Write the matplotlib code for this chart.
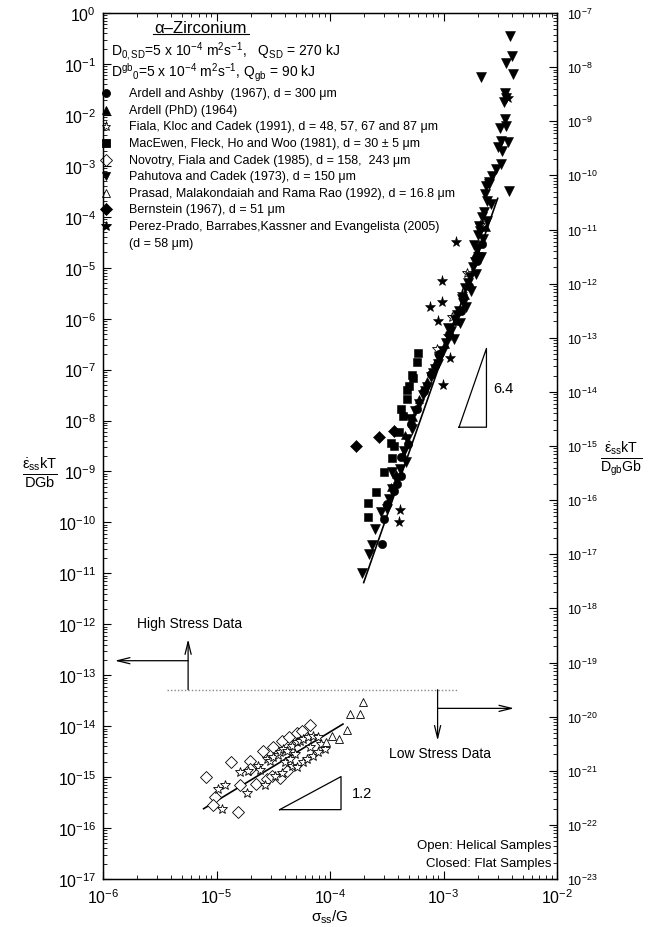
import matplotlib
matplotlib.use('Agg')
import matplotlib.pyplot as plt
from matplotlib.lines import Line2D
from matplotlib.ticker import LogLocator, NullFormatter

plt.rcParams['font.family'] = ['Liberation Sans', 'DejaVu Sans']
plt.rcParams['mathtext.fontset'] = 'custom'
plt.rcParams['mathtext.rm'] = 'Liberation Sans'
plt.rcParams['mathtext.it'] = 'Liberation Sans:italic'
plt.rcParams['mathtext.bf'] = 'Liberation Sans:bold'
plt.rcParams['mathtext.default'] = 'regular'
plt.rcParams['axes.unicode_minus'] = False

# ---- high stress data (closed symbols) ----
pahutova_x = [3.86e-3, 4.02e-3, 3.56e-3, 2.15e-3, 4.10e-3, 3.49e-3, 3.56e-3, 3.42e-3, 3.49e-3,
              3.15e-3, 3.56e-3, 3.2e-3, 3.7e-3, 3.0e-3, 3.3e-3, 3.2e-3, 2.9e-3, 2.7e-3, 2.5e-3,
              2.35e-3, 3.78e-3,
              2.52e-3, 2.33e-3, 2.63e-3, 2.28e-3, 2.43e-3, 2.10e-3, 2.24e-3, 1.98e-3, 2.15e-3,
              1.82e-3, 1.94e-3, 1.65e-3, 1.75e-3, 1.46e-3, 1.58e-3, 1.32e-3, 1.40e-3, 1.17e-3,
              1.24e-3, 9.95e-4, 9.2e-4, 8.5e-4, 7.8e-4, 7.2e-4, 6.6e-4, 6.1e-4, 5.65e-4, 5.1e-4,
              5.3e-4, 4.8e-4, 4.5e-4, 4.7e-4, 4.1e-4, 3.8e-4, 3.5e-4, 3.3e-4, 3.2e-4, 2.84e-4,
              2.5e-4, 2.36e-4, 2.22e-4, 1.93e-4, 3.54e-4,
              2.4e-3, 2.2e-3, 2.05e-3, 2.0e-3, 1.85e-3, 1.9e-3, 1.7e-3, 1.55e-3, 1.5e-3, 1.38e-3,
              1.25e-3, 1.1e-3, 1.05e-3, 9.0e-4, 8.0e-4, 6.9e-4]
pahutova_y = [0.35, 0.143, 0.104, 5.5e-2, 6.4e-2, 2.7e-2, 2.1e-2, 1.8e-2, 8.3e-3,
              5.5e-3, 6.0e-3, 3.1e-3, 2.9e-3, 2.3e-3, 1.95e-3, 1.09e-3, 8.7e-4, 6.3e-4, 4.8e-4,
              4.0e-4, 3.2e-4,
              4.4e-4, 2.8e-4, 1.78e-4, 1.24e-4, 8.3e-5, 5.3e-5, 3.7e-5, 2.3e-5, 1.6e-5,
              1.03e-5, 7.5e-6, 5.0e-6, 3.5e-6, 2.4e-6, 1.7e-6, 1.18e-6, 8.2e-7, 5.7e-7,
              4.0e-7, 2.3e-7, 1.6e-7, 1.03e-7, 7.1e-8, 4.6e-8, 3.2e-8, 2.1e-8, 1.54e-8, 1.07e-8,
              6.8e-9, 4.3e-9, 2.5e-9, 1.53e-9, 1.12e-9, 7.1e-10, 4.5e-10, 2.9e-10, 1.83e-10, 1.6e-10,
              7.4e-11, 3.6e-11, 2.4e-11, 1.02e-11, 9.6e-10,
              2.0e-4, 1.0e-4, 6.5e-5, 4.4e-5, 2.8e-5, 1.3e-5, 6.5e-6, 4.0e-6, 2.0e-6, 1.4e-6,
              9.5e-7, 6.5e-7, 3.4e-7, 1.3e-7, 8.5e-8, 3.8e-8]

ardell_ashby_x = [2.19e-3, 1.98e-3, 1.68e-3, 1.43e-3, 1.12e-3, 9.18e-4, 7.8e-4, 6.78e-4, 5.87e-4,
                  5.2e-4, 4.9e-4, 4.25e-4, 4.25e-4, 3.92e-4, 3.69e-4, 3.2e-4, 3.01e-4, 2.90e-4]
ardell_ashby_y = [2.92e-5, 1.35e-5, 4.37e-6, 1.41e-6, 5.0e-7, 2.02e-7, 8.2e-8, 3.8e-8, 1.68e-8,
                  8.5e-9, 3.46e-9, 1.92e-9, 8.1e-10, 5.67e-10, 4.13e-10, 2.30e-10, 1.17e-10, 3.77e-11]

ardell_phd_x = [2.38e-3, 1.90e-3, 1.55e-3, 1.27e-3, 1.04e-3, 8.46e-4, 7.2e-4, 6.12e-4, 5.42e-4,
                4.61e-4, 4.43e-4, 3.84e-4, 3.47e-4]
ardell_phd_y = [6.3e-5, 1.86e-5, 2.91e-6, 9.0e-7, 3.18e-7, 1.35e-7, 5.97e-8, 2.64e-8, 1.17e-8,
                5.2e-9, 2.2e-9, 8.9e-10, 4.96e-10]

macewen_x = [6.00e-4, 5.87e-4, 5.31e-4, 5.42e-4, 5.0e-4, 4.80e-4, 4.80e-4, 4.25e-4, 4.43e-4,
             4.08e-4, 3.47e-4, 3.69e-4, 3.54e-4, 3.01e-4, 2.56e-4, 2.18e-4, 2.18e-4]
macewen_y = [2.12e-7, 1.41e-7, 7.8e-8, 6.8e-8, 4.76e-8, 3.97e-8, 2.64e-8, 1.68e-8, 1.23e-8,
             5.96e-9, 3.62e-9, 3.16e-9, 1.84e-9, 9.7e-10, 3.95e-10, 2.40e-10, 1.28e-10]

bernstein_x = [1.71e-4, 2.72e-4, 3.69e-4]
bernstein_y = [3.16e-9, 4.74e-9, 6.2e-9]

perez_prado_x = [3.71e-3, 1.29e-3, 9.75e-4, 7.66e-4, 9.75e-4, 8.99e-4, 1.15e-3, 9.95e-4,
                 4.17e-4, 4.08e-4, 2.0e-3, 1.45e-3, 1.1e-3]
perez_prado_y = [2.1e-2, 3.2e-5, 5.5e-6, 1.69e-6, 2.12e-6, 9.0e-7, 1.69e-7, 5.0e-8,
                 1.75e-10, 1.02e-10, 1.9e-5, 3.0e-6, 4.5e-7]

# ---- low stress data (open symbols) ----
fiala_x = [2.1e-3, 1.6e-3, 1.2e-3, 8.7e-4,
           1.03e-5, 1.18e-5, 1.11e-5, 1.60e-5, 1.88e-5, 1.84e-5, 2.31e-5, 2.40e-5, 2.66e-5,
           2.77e-5, 2.94e-5, 3.12e-5, 3.45e-5, 3.60e-5, 3.82e-5, 4.15e-5, 4.59e-5, 5.07e-5,
           5.40e-5, 5.73e-5, 6.34e-5, 7.02e-5, 7.77e-5, 4.59e-5, 5.07e-5, 5.73e-5, 6.21e-5,
           7.02e-5, 7.77e-5, 3.75e-5, 3.25e-5, 3.98e-5, 8.41e-5, 8.95e-5, 6.60e-5, 4.88e-5,
           4.41e-5]
fiala_y = [7.0e-5, 8.0e-6, 1.1e-6, 2.5e-7,
           5.8e-16, 7.0e-16, 2.36e-16, 1.26e-15, 1.32e-15, 4.9e-16, 1.65e-15, 1.38e-15, 7.0e-16,
           2.27e-15, 2.07e-15, 2.48e-15, 2.72e-15, 3.1e-15, 3.56e-15, 3.25e-15, 4.1e-15, 4.9e-15,
           5.1e-15, 5.6e-15, 6.1e-15, 6.4e-15, 6.1e-15, 1.65e-15, 1.58e-15, 1.98e-15, 2.27e-15,
           2.6e-15, 3.1e-15, 1.20e-15, 1.05e-15, 1.98e-15, 4.5e-15, 3.56e-15, 3.90e-15, 2.85e-15,
           2.27e-15]

novotry_x = [8.0e-6, 1.33e-5, 1.96e-5, 1.60e-5, 1.54e-5, 9.7e-6, 9.3e-6, 2.21e-5, 2.55e-5,
             3.12e-5, 3.75e-5, 4.32e-5, 5.07e-5, 5.61e-5, 6.60e-5, 2.77e-5, 3.06e-5, 3.60e-5,
             4.15e-5, 1.96e-5]
novotry_y = [1.00e-15, 1.98e-15, 2.07e-15, 7.0e-16, 2.06e-16, 4.07e-16, 2.83e-16, 7.3e-16, 3.25e-15,
             3.90e-15, 5.1e-15, 6.1e-15, 7.3e-15, 8.0e-15, 1.04e-14, 9.2e-16, 1.05e-15, 9.6e-16,
             1.32e-15, 1.44e-15]

prasad_x = [1.97e-4, 1.51e-4, 1.84e-4, 1.41e-4, 1.19e-4, 1.05e-4, 9.27e-5]
prasad_y = [2.98e-14, 1.73e-14, 1.73e-14, 8.4e-15, 5.6e-15, 6.4e-15, 4.9e-15]

# fitted lines and slope triangles
fit_high_x = [1.98e-4, 3.0e-3]
fit_high_y = [6.6e-12, 2.3e-4]
fit_low_x = [7.7e-6, 1.3e-4]
fit_low_y = [2.4e-16, 1.1e-14]
slope_high = 6.4
slope_low = 1.2
tri_high_x = [1.37e-3, 2.39e-3]
tri_high_y0 = 7.4e-9
tri_low_x = [3.6e-5, 1.25e-4]
tri_low_y0 = 2.3e-16

legend_labels = [
    'Ardell and Ashby  (1967), d = 300 μm',
    'Ardell (PhD) (1964)',
    'Fiala, Kloc and Cadek (1991), d = 48, 57, 67 and 87 μm',
    'MacEwen, Fleck, Ho and Woo (1981), d = 30 ± 5 μm',
    'Novotry, Fiala and Cadek (1985), d = 158,  243 μm',
    'Pahutova and Cadek (1973), d = 150 μm',
    'Prasad, Malakondaiah and Rama Rao (1992), d = 16.8 μm',
    'Bernstein (1967), d = 51 μm',
    'Perez-Prado, Barrabes,Kassner and Evangelista (2005)',
]

fig = plt.figure(figsize=(6.52, 9.28), dpi=100)
ax = fig.add_axes([0.158, 0.0517, 0.6963, 0.9332])
ax.set_xscale('log')
ax.set_yscale('log')
ax.set_xlim(1e-6, 1e-2)
ax.set_ylim(1e-17, 1e0)

# marker styles: (marker, size, filled)
styles = {
    'ardell_ashby': ('o', 6.0, True),
    'ardell_phd': ('^', 6.0, True),
    'fiala': ('*', 7.0, False),
    'macewen': ('s', 5.5, True),
    'novotry': ('D', 6.0, False),
    'pahutova': ('v', 6.5, True),
    'prasad': ('^', 6.0, False),
    'bernstein': ('D', 6.5, True),
    'perez_prado': ('*', 8.0, True),
}


def draw(xs, ys, key, **kw):
    m, s, filled = styles[key]
    ax.plot(xs, ys, linestyle='none', marker=m, markersize=s,
            markerfacecolor='black' if filled else 'white',
            markeredgecolor='black', markeredgewidth=0.6 if not filled else 0.4, **kw)


ax.plot(fit_high_x, fit_high_y, color='black', lw=1.2, zorder=1)
ax.plot(fit_low_x, fit_low_y, color='black', lw=1.2, zorder=1)

draw(fiala_x[:4], fiala_y[:4], 'fiala')
draw(macewen_x, macewen_y, 'macewen')
draw(ardell_phd_x, ardell_phd_y, 'ardell_phd')
draw(ardell_ashby_x, ardell_ashby_y, 'ardell_ashby')
draw(pahutova_x, pahutova_y, 'pahutova')
draw(bernstein_x, bernstein_y, 'bernstein')
draw(perez_prado_x, perez_prado_y, 'perez_prado')
draw(novotry_x, novotry_y, 'novotry')
draw(fiala_x[4:], fiala_y[4:], 'fiala')
draw(prasad_x, prasad_y, 'prasad')

# slope triangles
def slope_triangle(xr, y0, n, label, dx):
    y1 = y0 * (xr[1] / xr[0]) ** n
    ax.plot([xr[0], xr[1], xr[1], xr[0]], [y0, y0, y1, y0], color='black', lw=0.9)
    ax.text(xr[1] * dx, (y0 * y1) ** 0.5, label, fontsize=10.5, va='center', ha='left')


slope_triangle(tri_high_x, tri_high_y0, slope_high, '6.4', 1.15)
slope_triangle(tri_low_x, tri_low_y0, slope_low, '1.2', 1.25)

# stress regime divider and arrows
ax.plot([3.63e-6, 1.33e-3], [5.2e-14, 5.2e-14], color='#888888', lw=1.0, linestyle=(0, (1, 1.5)))
arrow = dict(arrowstyle='->,head_length=0.9,head_width=0.22', lw=0.9, color='black',
             shrinkA=0, shrinkB=0)
ax.annotate('', xy=(5.62e-6, 5.1e-13), xytext=(5.62e-6, 5.2e-14), arrowprops=arrow)
ax.annotate('', xy=(1.27e-6, 1.93e-13), xytext=(5.62e-6, 1.93e-13), arrowprops=arrow)
ax.annotate('', xy=(8.87e-4, 5.2e-15), xytext=(8.87e-4, 5.2e-14), arrowprops=arrow)
ax.annotate('', xy=(4.19e-3, 2.24e-14), xytext=(8.87e-4, 2.24e-14), arrowprops=arrow)
ax.text(2.0e-6, 1.05e-12, 'High Stress Data', fontsize=10, va='center', ha='left')
ax.text(3.3e-4, 3.0e-15, 'Low Stress Data', fontsize=10, va='center', ha='left')

ax.text(0.988, 0.0395, 'Open: Helical Samples', transform=ax.transAxes, fontsize=9.5,
        ha='right', va='center')
ax.text(0.988, 0.0185, 'Closed: Flat Samples', transform=ax.transAxes, fontsize=9.5,
        ha='right', va='center')

# header block
ax.text(0.2137, 0.9838, 'α–Zirconium', transform=ax.transAxes, fontsize=12,
        ha='center', va='center')
ax.add_line(Line2D([0.110, 0.322], [0.9762, 0.9762], transform=ax.transAxes,
                   color='black', lw=0.8))
ax.text(0.017, 0.9565, r'D$_{0,SD}$=5 x 10$^{-4}$ m$^2$s$^{-1}$,   Q$_{SD}$ = 270 kJ',
        transform=ax.transAxes, fontsize=10, ha='left', va='center')
ax.text(0.017, 0.9315, r'D$^{gb}$$_0$=5 x 10$^{-4}$ m$^2$s$^{-1}$, Q$_{gb}$ = 90 kJ',
        transform=ax.transAxes, fontsize=10, ha='left', va='center')

legend_keys = ['ardell_ashby', 'ardell_phd', 'fiala', 'macewen', 'novotry', 'pahutova',
               'prasad', 'bernstein', 'perez_prado']
row_y = 0.9073
for key, label in zip(legend_keys, legend_labels):
    m, s, filled = styles[key]
    ax.plot([0.006], [row_y], transform=ax.transAxes, marker=m, markersize=s * 0.95,
            markerfacecolor='black' if filled else 'white', markeredgecolor='black',
            markeredgewidth=0.6, clip_on=False)
    ax.text(0.0573, row_y, label, transform=ax.transAxes, fontsize=9, ha='left', va='center')
    row_y -= 0.01916
ax.text(0.0573, row_y, '(d = 58 μm)', transform=ax.transAxes, fontsize=9,
        ha='left', va='center')

# axes ticks
ax.set_yticks([10.0 ** k for k in range(-17, 1)])
ax.set_xticks([10.0 ** k for k in range(-6, -1)])
ax.yaxis.set_minor_locator(LogLocator(base=10, subs=range(2, 10), numticks=100))
ax.xaxis.set_minor_locator(LogLocator(base=10, subs=range(2, 10), numticks=100))
ax.yaxis.set_minor_formatter(NullFormatter())
ax.xaxis.set_minor_formatter(NullFormatter())
ax.tick_params(which='both', direction='in', top=True, right=False, labelsize=11.5)
ax.tick_params(which='major', length=6, width=0.8)
ax.tick_params(which='minor', length=3, width=0.6)
ax.tick_params(axis='x', pad=6)
ax.tick_params(axis='y', pad=5)
for sp in ax.spines.values():
    sp.set_linewidth(1.0)

ax2 = ax.twinx()
ax2.set_yscale('log')
ax2.set_ylim(1e-23, 1e-7)
ax2.set_yticks([10.0 ** k for k in range(-23, -6)])
ax2.yaxis.set_minor_locator(LogLocator(base=10, subs=range(2, 10), numticks=100))
ax2.yaxis.set_minor_formatter(NullFormatter())
ax2.tick_params(which='both', direction='in', labelsize=9, pad=7)
ax2.tick_params(which='major', length=6, width=0.8)
ax2.tick_params(which='minor', length=3, width=0.6)

# axis titles
fig.text(0.061, 0.491, r'$\frac{\dot{\varepsilon}_{ss}kT}{DGb}$', fontsize=15,
         ha='center', va='center')
fig.text(0.953, 0.506, r'$\frac{\dot{\varepsilon}_{ss}kT}{D_{gb}Gb}$', fontsize=14.5,
         ha='center', va='center')
fig.text(0.506, 0.011, r'$\sigma_{ss}$/G', fontsize=11, ha='center', va='center')

fig.savefig('out.png', dpi=100)
